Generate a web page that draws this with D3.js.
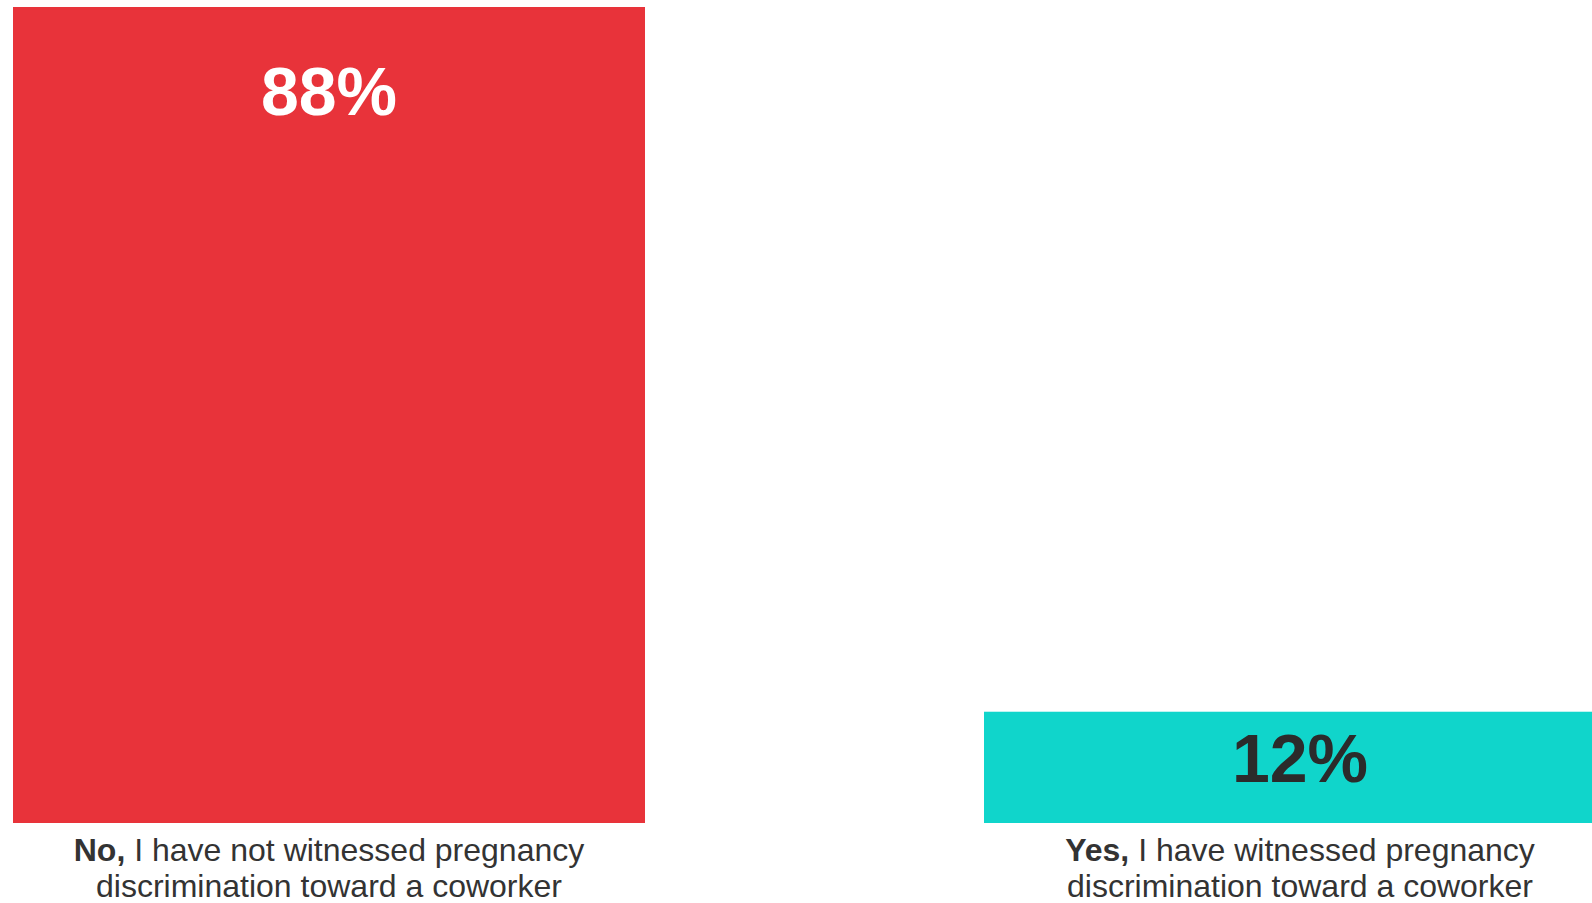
<!DOCTYPE html>
<html><head><meta charset="utf-8">
<script src="https://cdn.jsdelivr.net/npm/d3@7"></script>
<style>body{margin:0;background:#fff;overflow:hidden}svg{display:block}</style>
</head><body>
<svg id="c" width="1592" height="903"></svg>
<script>
const categories = ["No", "Yes"];
const boldParts = ["No,", "Yes,"];
const line1Rest = [" I have not witnessed pregnancy", " I have witnessed pregnancy"];
const line2 = ["discrimination toward a coworker", "discrimination toward a coworker"];
const values = [88, 12];
const colors = ["#e8333a", "#10d5cb"];
const labelColors = ["#ffffff", "#2b2b2b"];

const svg = d3.select("#c");
const baseY = 823, topY = 7;
const x = d3.scalePoint().domain(categories).range([329, 1300]);
const bw = 632;
const xc = d => x(d);
const y = d3.scaleLinear().domain([0, d3.max(values)]).range([baseY, topY]);

const data = categories.map((c,i)=>({c, v: values[i], i}));

svg.selectAll("rect.bar").data(data).join("rect")
  .attr("x", d => xc(d.c) - bw/2)
  .attr("y", d => y(d.v))
  .attr("width", bw)
  .attr("height", d => baseY - y(d.v))
  .attr("fill", d => colors[d.i]);

svg.selectAll("text.val").data(data).join("text")
  .attr("x", d => xc(d.c))
  .attr("y", d => { const h = baseY - y(d.v); return h > 300 ? y(d.v) + 108 : y(d.v) + h/2 + 15; })
  .attr("text-anchor", "middle")
  .attr("font-family", "Liberation Sans, Arial, sans-serif")
  .attr("font-weight", "bold")
  .attr("font-size", 68)
  .attr("fill", d => labelColors[d.i])
  .text(d => d.v + "%");

const lab = svg.selectAll("g.lab").data(data).join("g")
  .attr("font-family", "Liberation Sans, Arial, sans-serif")
  .attr("font-size", 32)
  .attr("fill", "#333333")
  .attr("text-anchor", "middle");
lab.append("text").attr("x", d => xc(d.c)).attr("y", 861)
  .call(t => {
    t.append("tspan").attr("font-weight", "bold").text(d => boldParts[d.i]);
    t.append("tspan").text(d => line1Rest[d.i]);
  });
lab.append("text").attr("x", d => xc(d.c)).attr("y", 897).text(d => line2[d.i]);
</script>
</body></html>
